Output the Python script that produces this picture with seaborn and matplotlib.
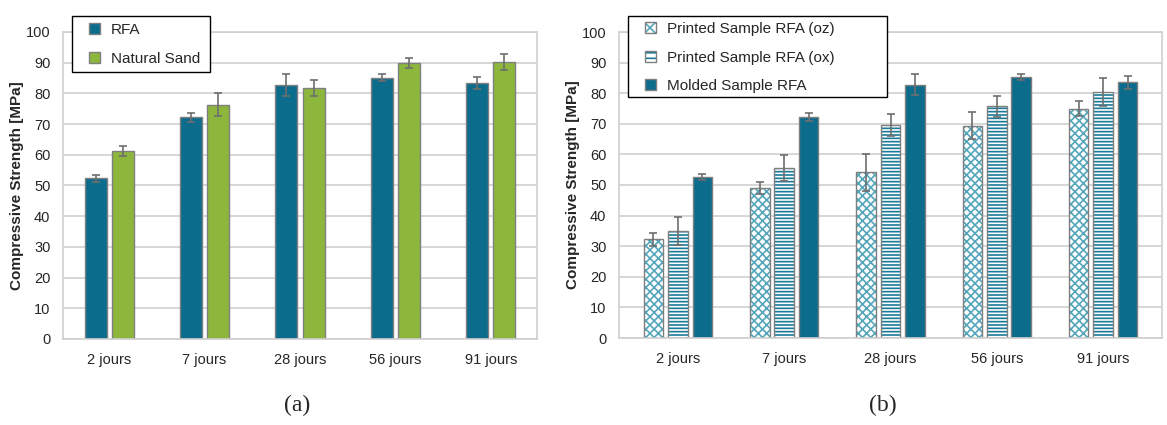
import pandas as pd
import numpy as np
import matplotlib.pyplot as plt
import seaborn as sns
from matplotlib.colors import to_rgba
from matplotlib.patches import Rectangle

# donnees
jours = ['2 jours', '7 jours', '28 jours', '56 jours', '91 jours']

rfa = [52.3, 72.2, 82.7, 85.1, 83.3]
rfa_err = [1.2, 1.4, 3.6, 1.2, 2.0]
sable = [61.2, 76.3, 81.7, 89.9, 90.3]
sable_err = [1.6, 3.8, 2.6, 1.5, 2.6]

oz = [32.2, 49.1, 54.1, 69.4, 75.0]
oz_err = [2.1, 2.0, 6.0, 4.3, 2.3]
ox = [35.0, 55.6, 69.6, 75.7, 80.5]
ox_err = [4.7, 4.2, 3.7, 3.4, 4.6]
moule = [52.6, 72.3, 82.8, 85.3, 83.5]
moule_err = [1.0, 1.3, 3.5, 1.0, 2.0]

noms_a = ['RFA', 'Natural Sand']
noms_b = ['Printed Sample RFA (oz)', 'Printed Sample RFA (ox)', 'Molded Sample RFA']

teal = '#0B6C8C'
vert = '#8CB63C'
gris = '#7F7F7F'

sns.set_style('whitegrid')
plt.rcParams['font.family'] = ['Liberation Sans', 'DejaVu Sans']
plt.rcParams['hatch.linewidth'] = 1.2


def long_df(series, noms):
    rows = []
    for nom, vals in zip(noms, series):
        for j, v in zip(jours, vals):
            rows.append({'jour': j, 'serie': nom, 'val': v})
    return pd.DataFrame(rows)


W, H = 1167, 425
fig = plt.figure(figsize=(W / 100, H / 100), dpi=100)
ax1 = fig.add_axes([63 / W, 1 - 339 / H, (537 - 63) / W, (339 - 32) / H])
ax2 = fig.add_axes([619 / W, 1 - 338 / H, (1162 - 619) / W, (338 - 32) / H])

df_a = long_df([rfa, sable], noms_a)
sns.barplot(data=df_a, x='jour', y='val', hue='serie', palette=[teal, vert],
            width=0.57, gap=0.19, errorbar=None, edgecolor=gris, linewidth=1,
            saturation=1, ax=ax1)

df_b = long_df([oz, ox, moule], noms_b)
sns.barplot(data=df_b, x='jour', y='val', hue='serie', palette=['white', 'white', teal],
            width=0.69, gap=0.2, errorbar=None, edgecolor=gris, linewidth=1,
            saturation=1, ax=ax2)

hachures = ['xxxx', '-----', None]
couleurs_h = ['#55A6BA', '#1A7A98', None]


def hachurer(p, h, c):
    p.set_hatch(h)
    if hasattr(p, 'set_hatchcolor'):
        p.set_hatchcolor(c)
    else:
        p._hatch_color = to_rgba(c)


for cont, h, c in zip(ax2.containers, hachures, couleurs_h):
    if h is None:
        continue
    for p in cont:
        hachurer(p, h, c)

# barres d'erreur
for ax, errs in [(ax1, [rfa_err, sable_err]), (ax2, [oz_err, ox_err, moule_err])]:
    for cont, e in zip(ax.containers, errs):
        xs = [p.get_x() + p.get_width() / 2 for p in cont]
        ys = [p.get_height() for p in cont]
        ax.errorbar(xs, ys, yerr=e, fmt='none', ecolor='#6E6E6E',
                    elinewidth=1.2, capsize=3.2, capthick=1.2, zorder=5)

for ax in (ax1, ax2):
    ax.set_ylim(0, 100)
    ax.set_yticks(range(0, 101, 10))
    ax.set_xlabel('')
    ax.set_ylabel('Compressive Strength [MPa]', fontsize=11, fontweight='bold', labelpad=1)
    ax.grid(axis='y', color='#CFCFCF', linewidth=1.2)
    ax.grid(axis='x', visible=False)
    ax.set_axisbelow(True)
    for s in ax.spines.values():
        s.set_color('#CFCFCF')
        s.set_linewidth(1.2)
    ax.tick_params(axis='both', length=0, labelsize=10.5, colors='#262626')
    ax.tick_params(axis='y', pad=9)
    ax.tick_params(axis='x', pad=10)
    ax.get_legend().remove()

# cadres des legendes
for x0, y0, x1, y1 in [(72, 16, 210, 72), (628, 16, 887, 97)]:
    fig.add_artist(Rectangle((x0 / W, 1 - y1 / H), (x1 - x0) / W, (y1 - y0) / H,
                             transform=fig.transFigure, facecolor='white',
                             edgecolor='black', linewidth=1, zorder=4))

opts = dict(loc='upper left', fontsize=11, frameon=False, handlelength=0.72,
            handleheight=0.72, labelspacing=0.95, borderpad=0,
            handletextpad=0.72, borderaxespad=0)

h1, l1 = ax1.get_legend_handles_labels()
leg1 = fig.legend(h1[:2], l1[:2], bbox_to_anchor=(89 / W, 1 - 23 / H), **opts)
leg1.set_zorder(5)

h2, l2 = ax2.get_legend_handles_labels()
leg2 = fig.legend(h2[:3], l2[:3], bbox_to_anchor=(645 / W, 1 - 22 / H), **opts)
leg2.set_zorder(5)
for p, h, c in zip(leg2.legend_handles, hachures, couleurs_h):
    p.set_edgecolor(gris)
    if h is not None:
        hachurer(p, h.replace('xxxx', 'xxx').replace('-----', '---'), c)

fig.text(297 / W, 1 - 405 / H, '(a)', ha='center', va='center', fontsize=17,
         family=['Liberation Serif', 'DejaVu Serif'])
fig.text(883 / W, 1 - 405 / H, '(b)', ha='center', va='center', fontsize=17,
         family=['Liberation Serif', 'DejaVu Serif'])

fig.savefig('out.png', dpi=100)
